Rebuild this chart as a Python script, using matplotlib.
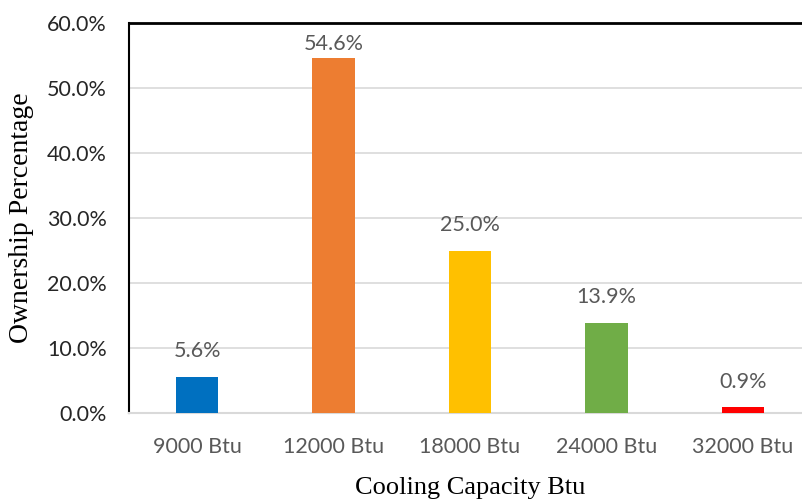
import matplotlib.pyplot as plt
from matplotlib.ticker import PercentFormatter

categories = ["9000 Btu", "12000 Btu", "18000 Btu", "24000 Btu", "32000 Btu"]
shares = [5.6, 54.6, 25.0, 13.9, 0.9]
colors = ["#0070C0", "#ED7D31", "#FFC000", "#70AD47", "#FF0000"]

TEXT_GRAY = "#595959"
Y_MAX = 60

fig = plt.figure(figsize=(8.02, 5.0), dpi=100)
ax = fig.add_axes([129 / 802, 87 / 500, 682 / 802, 390 / 500])

x = range(len(categories))
bars = ax.bar(x, shares, width=0.31, color=colors, zorder=3)

for bar, v in zip(bars, shares):
    # labels near the top of the axis get pulled closer to the bar
    offset = 3 if v > Y_MAX - 10 else 11
    ax.annotate(f"{v:.1f}%", (bar.get_x() + bar.get_width() / 2, v),
                xytext=(0, offset), textcoords="offset points",
                ha="center", va="bottom", fontsize=15.5,
                family="Lato", color=TEXT_GRAY)

ax.set_xlim(-0.5, len(categories) - 0.5)
ax.set_ylim(0, Y_MAX)
ax.set_yticks(range(0, Y_MAX + 1, 10))
ax.yaxis.set_major_formatter(PercentFormatter(decimals=1))
ax.set_xticks(list(x))
ax.set_xticklabels(categories)

ax.grid(axis="y", color="#D9D9D9", linewidth=1.2, zorder=0)
ax.tick_params(length=0, labelsize=15.5, colors=TEXT_GRAY)
ax.tick_params(axis="x", pad=17)
ax.tick_params(axis="y", pad=16, labelcolor="#262626")
for lbl in ax.get_xticklabels() + ax.get_yticklabels():
    lbl.set_family("Lato")

ax.spines["left"].set_color("black")
ax.spines["left"].set_linewidth(1.5)
ax.spines["top"].set_color("black")
ax.spines["top"].set_linewidth(2)
ax.spines["bottom"].set_color("#D9D9D9")
ax.spines["bottom"].set_linewidth(1.5)
ax.spines["right"].set_visible(False)

ax.set_xlabel("Cooling Capacity Btu", family="Liberation Serif", fontsize=19,
              color="black", labelpad=15)
ax.set_ylabel("Ownership Percentage", family="Liberation Serif", fontsize=20,
              color="black", labelpad=9)

fig.savefig("out.png", dpi=100)
